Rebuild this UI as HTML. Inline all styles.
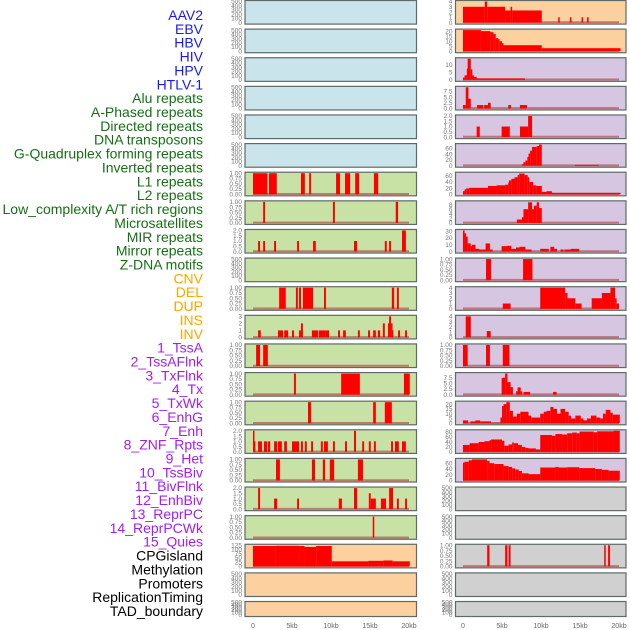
<!DOCTYPE html>
<html><head><meta charset="utf-8"><style>
html,body{margin:0;padding:0;background:#fff;width:630px;height:630px;overflow:hidden}
svg{display:block}
</style></head><body>
<svg id="chart" width="630" height="630" xmlns="http://www.w3.org/2000/svg" font-family="Liberation Sans, sans-serif"></svg>
<script>
// ---- labels ----
const labelNames = ["AAV2","EBV","HBV","HIV","HPV","HTLV-1","Alu repeats","A-Phased repeats","Directed repeats","DNA transposons","G-Quadruplex forming repeats","Inverted repeats","L1 repeats","L2 repeats","Low_complexity A/T rich regions","Microsatellites","MIR repeats","Mirror repeats","Z-DNA motifs","CNV","DEL","DUP","INS","INV","1_TssA","2_TssAFlnk","3_TxFlnk","4_Tx","5_TxWk","6_EnhG","7_Enh","8_ZNF_Rpts","9_Het","10_TssBiv","11_BivFlnk","12_EnhBiv","13_ReprPC","14_ReprPCWk","15_Quies","CPGisland","Methylation","Promoters","ReplicationTiming","TAD_boundary"];
const labelGroups = [6,13,5,15,5];
const groupColors = ["#1a1aee","#157015","#ffa500","#a020f0","#000000"];
// ---- x axis ----
const xTicks = [0,5,10,15,20];
const xTickLabels = ["0","5kb","10kb","15kb","20kb"];
// ---- tick sets ----
const tEmpty = [0,100,200,300,400,500];
const tBin = [0,0.25,0.5,0.75,1];
const tBinL = ["0.00","0.25","0.50","0.75","1.00"];
const t2 = [0,0.5,1,1.5,2];
const t2L = ["0.0","0.5","1.0","1.5","2.0"];
const t3 = [0,1,2,3];
const t4 = [0,1,2,3,4];
const t20 = [0,5,10,15,20];
const t10 = [0,5,10];
const t75 = [0,2.5,5,7.5];
const t75L = ["0.0","2.5","5.0","7.5"];
const t60 = [0,20,40,60];
const t80 = [0,20,40,60,80];
const t8 = [0,2,4,6,8];
const t30 = [0,10,20,30];
const t125 = [0,25,50,75,100,125];
// ---- column 1 series [start kb, end kb, value] ----
const c1L1 = [[0,1.85,1],[2.05,3.05,1],[6.15,6.65,1],[7.2,7.45,1],[10.65,11.15,1],[11.8,12.45,1],[13.1,13.6,1],[15.5,16.05,1]];
const c1Low = [[1.3,1.55,1],[10.25,10.5,1],[18.3,18.6,1]];
const c1MIR = [[0.65,0.9,1],[1.3,1.55,1],[2.7,2.95,1],[5.65,5.9,1],[7.7,8.05,1],[12.95,13.35,1],[16.9,17.15,1],[17.45,17.7,1],[19.1,19.6,2]];
const c1CNV = [[3.35,4.2,1],[5.5,5.75,1],[5.9,6.15,1],[6.4,7.7,1],[9.1,9.35,1],[17.8,18.1,1],[18.45,18.7,1]];
const c1INS = [[0.65,1.0,1],[3.2,3.85,1],[4.0,4.5,1],[5.0,5.25,1],[5.9,6.15,1],[6.15,6.4,2],[7.55,8.35,1],[8.45,9.25,1],[9.25,9.75,1],[10.9,11.15,1],[11.55,11.9,1],[13.45,13.7,1],[14.75,15.0,1],[15.4,15.75,1],[16.0,16.3,1],[16.65,16.9,2],[17.3,17.45,2],[17.45,17.7,3],[17.7,17.8,2],[17.8,17.95,1],[18.6,18.85,1],[19.5,19.75,1]];
const c1TssA = [[0.4,0.9,1],[1.3,1.9,1]];
const c1TxFlnk = [[5.25,5.5,1],[11.3,13.7,1],[19.35,20.1,1]];
const c1TxWk = [[7.05,7.45,1],[15.4,15.75,1],[16.9,17.8,1]];
const c1Enh = [[0,0.12,2],[0.12,0.2,1],[0.65,1.15,1],[1.4,1.8,1],[1.9,2.2,1],[2.7,3.1,1],[3.2,3.7,1],[4.0,4.35,1],[5.0,5.9,1],[6.15,6.4,1],[6.65,6.9,1],[7.45,7.7,1],[8.7,8.95,1],[9.1,9.6,1],[10.25,10.5,1],[11.8,12.05,1],[12.95,13.2,2],[14.0,14.25,1],[14.85,15.1,1],[15.5,15.75,1],[17.7,17.95,1],[18.2,18.7,1],[19.1,19.6,1]];
const c1Het = [[2.95,3.45,1],[7.55,7.95,1],[8.95,9.25,1],[9.85,10.4,1],[13.45,14.1,1]];
const c1BivFlnk = [[0.65,0.9,2],[2.7,3.1,1],[5.65,5.9,1],[11.0,11.4,1],[12.95,13.35,2],[14.85,15.1,1.5],[15.1,15.75,1],[16.4,17.05,1],[17.45,17.95,2],[18.45,18.7,1],[19.5,19.75,1]];
const c1ReprPC = [[15.35,15.55,1]];
const c1CPG = [[0,2.9,121],[2.9,5.9,122],[5.9,6.6,121],[6.6,8.1,115],[8.1,10.1,121],[10.1,14.8,30],[14.8,16.7,33],[16.7,17.9,35],[17.9,20.1,30]];
// ---- column 2 series ----
const c2AAV2 = [[0,2.8,3],[2.8,3.1,4],[3.1,5.4,3],[5.4,6.1,2.3],[6.1,6.3,3],[6.3,10.1,2.3],[12.2,12.4,1],[13.7,13.9,1],[15.2,15.4,1],[15.9,16.1,1]];
const c2EBV = [[0,2.3,21],[2.3,3.5,20],[3.5,3.9,19],[3.9,4.2,17],[4.2,4.5,13],[4.5,4.7,12],[4.7,5.0,10],[5.0,5.1,8],[5.1,10.1,6],[10.1,20.2,3]];
const c2HBV = [[0,0.2,1.5],[0.2,0.5,3],[0.5,0.6,7.5],[0.6,1.0,14],[1.0,1.15,7],[1.15,1.4,3],[1.4,1.75,2],[1.75,7.95,1]];
const c2HIV = [[0,0.35,1.5],[0.35,0.7,9.3],[0.7,1.0,4.3],[1.8,2.6,1.5],[2.7,3.2,1.5],[3.2,3.55,2.5],[5.8,6.15,1.5],[7.3,8.2,1.5]];
const c2HPV = [[1.75,2.15,1],[4.95,6.0,1],[7.3,8.35,1],[8.35,8.85,2]];
const c2HTLV = [[7.55,7.74,5],[7.74,8.0,12],[8.0,8.25,18],[8.25,8.4,30],[8.4,8.6,42],[8.6,8.85,52],[8.85,9.45,65],[9.45,9.75,68],[9.75,10.1,73],[14.35,17.4,3]];
const c2L1 = [[0,0.2,10],[0.2,0.4,16],[0.4,0.8,19],[0.8,3.2,21],[3.2,4.3,27],[4.3,5.4,29],[5.4,5.8,31],[5.8,5.9,38],[5.9,6.2,45],[6.2,6.6,50],[6.6,7.0,55],[7.0,7.2,62],[7.2,7.9,67],[7.9,8.3,62],[8.3,8.5,55],[8.5,9.0,40],[9.0,9.4,29],[9.4,10.1,27],[10.1,10.7,8],[10.7,11.4,10],[11.4,20.2,5]];
const c2Low = [[6.9,7.55,1.5],[7.55,7.75,2.5],[7.75,8.35,6],[8.35,8.85,9],[8.85,9.1,6],[9.1,9.45,7.5],[9.45,9.75,9],[9.75,10.1,6.5]];
const c2MIR = [[0,0.2,31],[0.2,0.35,27],[0.35,0.6,22],[0.6,1.0,12],[1.0,1.15,8],[1.15,1.6,10],[1.6,2.1,4],[2.1,2.9,3],[2.9,3.45,12],[3.45,3.8,3],[4.95,5.7,8],[5.7,6.2,8.5],[6.2,6.8,4],[6.8,7.25,6],[7.25,8.0,7],[8.0,8.8,3],[9.9,11.0,4],[11.2,11.7,7],[11.7,12.05,4],[12.5,12.9,3],[13.0,13.8,3],[13.8,14.9,4]];
const c2CNV = [[2.95,3.6,1],[7.7,8.9,1]];
const c2DEL = [[5.1,6.1,1],[9.9,13.1,4],[13.1,13.4,3],[13.4,14.4,2],[14.4,15.2,1],[16.5,17.8,2],[17.8,18.9,3],[18.9,19.5,4],[19.5,19.7,2],[19.7,20.0,1]];
const c2INS = [[0.35,1.0,4],[3.05,3.55,1.2]];
const c2TssA = [[0,0.6,1],[2.95,3.45,1],[5.1,5.95,1]];
const c2TssAF = [[4.95,5.1,7.3],[5.1,5.4,7.5],[5.4,5.7,9.3],[5.7,6.1,5.5],[6.1,6.4,3.3],[6.8,7.0,1.5],[7.0,7.4,3.2],[7.4,7.55,1.5],[7.75,8.6,1.2],[11.55,12.0,1.2]];
const c2Tx = [[0,0.65,3],[0.95,1.6,2],[1.6,2.2,3],[2.2,3.6,2],[3.6,4.8,0.5],[4.8,5.0,6],[5.0,5.2,18],[5.2,5.55,20],[5.55,6.0,22],[6.0,6.4,13],[6.4,6.9,7],[6.9,7.35,10],[7.35,8.4,12],[8.4,8.75,8],[8.75,9.9,6],[9.9,10.35,10],[10.35,10.7,12],[10.7,11.2,13],[11.2,11.6,17],[11.6,12.05,15],[12.05,12.5,10],[12.5,13.1,15],[13.1,13.55,12],[13.55,13.85,8],[13.85,14.4,5],[14.4,15.1,8],[15.1,15.45,5],[15.45,15.9,3],[15.9,16.4,5],[16.4,17.1,8],[17.1,17.6,6],[17.6,17.95,5],[17.95,18.3,10],[18.3,18.9,14],[18.9,19.2,11],[19.2,20.1,9]];
const c2EnhG = [[0,0.85,28],[0.85,2.0,35],[2.0,2.75,40],[2.75,3.4,43],[3.4,3.6,47],[3.6,5.0,50],[5.0,5.3,45],[5.3,5.85,25],[5.85,6.3,30],[6.3,6.5,38],[6.5,7.05,35],[7.05,7.55,28],[7.55,8.0,20],[8.0,8.4,16],[8.4,9.35,14],[9.35,9.9,10],[9.9,11.4,68],[11.4,11.85,65],[11.85,12.7,72],[12.7,13.35,70],[13.35,14.0,75],[14.0,14.6,78],[14.6,14.95,75],[14.95,16.75,82],[16.75,17.2,79],[17.2,19.3,83],[19.3,20.1,85]];
const c2ZNF = [[0,0.2,62],[0.2,0.75,65],[0.75,1.15,70],[1.15,3.1,73],[3.1,3.4,68],[3.4,4.0,60],[4.0,5.2,57],[5.2,5.85,50],[5.85,6.3,47],[6.3,6.7,42],[6.7,7.15,38],[7.15,7.55,33],[7.55,8.4,25],[8.4,9.9,22],[9.9,11.85,45],[11.85,12.25,47],[12.25,13.35,45],[13.35,14.9,46],[14.9,16.95,43],[16.95,17.8,40],[17.8,18.65,37],[18.65,20.1,34]];
const c2CPG = [[3.1,3.4,1],[5.4,5.7,1],[5.85,6.1,1],[18.1,18.3,1],[18.6,18.85,1]];

const panels = [
 // col, row, bg, ticks, tickLabels, ymax, series, name
 [0,0,"#c9e4eb",tEmpty,null,500,null,"aav2-ebv"],
 [0,1,"#c9e4eb",tEmpty,null,500,null,"hbv-hiv"],
 [0,2,"#c9e4eb",tEmpty,null,500,null,"hpv-htlv"],
 [0,3,"#c9e4eb",tEmpty,null,500,null,"alu-aphased"],
 [0,4,"#c9e4eb",tEmpty,null,500,null,"directed-dna"],
 [0,5,"#c9e4eb",tEmpty,null,500,null,"gquad-inverted"],
 [0,6,"#c8e2a5",tBin,tBinL,1,c1L1,"l1-l2"],
 [0,7,"#c8e2a5",tBin,tBinL,1,c1Low,"lowcomplexity-microsat"],
 [0,8,"#c8e2a5",t2,t2L,2,c1MIR,"mir-mirror"],
 [0,9,"#c8e2a5",tEmpty,null,500,null,"zdna-cnv"],
 [0,10,"#c8e2a5",tBin,tBinL,1,c1CNV,"del-dup"],
 [0,11,"#c8e2a5",t3,null,3,c1INS,"ins-inv"],
 [0,12,"#c8e2a5",tBin,tBinL,1,c1TssA,"tssa"],
 [0,13,"#c8e2a5",tBin,tBinL,1,c1TxFlnk,"txflnk"],
 [0,14,"#c8e2a5",tBin,tBinL,1,c1TxWk,"txwk"],
 [0,15,"#c8e2a5",t2,t2L,2,c1Enh,"enh"],
 [0,16,"#c8e2a5",tBin,tBinL,1,c1Het,"het"],
 [0,17,"#c8e2a5",t2,t2L,2,c1BivFlnk,"bivflnk"],
 [0,18,"#c8e2a5",tBin,tBinL,1,c1ReprPC,"reprpc"],
 [0,19,"#fdd0a0",t125,null,125,c1CPG,"cpg-methylation"],
 [0,20,"#fdd0a0",tEmpty,null,500,null,"promoters"],
 [0,21,"#fdd0a0",tEmpty,null,500,null,"tad"],
 [1,0,"#fdd0a0",t4,null,4,c2AAV2,"aav2"],
 [1,1,"#fdd0a0",t20,null,21,c2EBV,"ebv"],
 [1,2,"#d6c6e2",t10,null,14,c2HBV,"hbv"],
 [1,3,"#d6c6e2",t75,t75L,9.3,c2HIV,"hiv"],
 [1,4,"#d6c6e2",t2,t2L,2,c2HPV,"hpv"],
 [1,5,"#d6c6e2",t60,null,73,c2HTLV,"htlv"],
 [1,6,"#d6c6e2",t60,null,68,c2L1,"l1"],
 [1,7,"#d6c6e2",t8,null,9.2,c2Low,"lowcomplexity"],
 [1,8,"#d6c6e2",t30,null,31,c2MIR,"mir"],
 [1,9,"#d6c6e2",tBin,tBinL,1,c2CNV,"cnv"],
 [1,10,"#d6c6e2",t4,null,4,c2DEL,"del"],
 [1,11,"#d6c6e2",t4,null,4,c2INS,"ins"],
 [1,12,"#d6c6e2",tBin,tBinL,1,c2TssA,"tssa"],
 [1,13,"#d6c6e2",t75,t75L,9.3,c2TssAF,"tssaflnk"],
 [1,14,"#d6c6e2",t20,null,22,c2Tx,"tx"],
 [1,15,"#d6c6e2",t80,null,85,c2EnhG,"enhg"],
 [1,16,"#d6c6e2",t60,null,73,c2ZNF,"znf"],
 [1,17,"#d0d0d0",tEmpty,null,500,null,"enhbiv"],
 [1,18,"#d0d0d0",tEmpty,null,500,null,"reprpcwk"],
 [1,19,"#d0d0d0",tBin,tBinL,1,c2CPG,"cpg"],
 [1,20,"#d0d0d0",tEmpty,null,500,null,"promoters"],
 [1,21,"#d0d0d0",tEmpty,null,500,null,"tad"]
];

const NS = "http://www.w3.org/2000/svg";
const svg = document.getElementById("chart");
function mk(tag, attrs, parent){
  const e = document.createElementNS(NS, tag);
  for (const k in attrs) e.setAttribute(k, attrs[k]);
  (parent||svg).appendChild(e);
  return e;
}
const colLeft = [245, 455.5], colRight = [416.5, 626], x0px = [253, 463], kbPx = 7.8;
function xScale(col, kb){ return x0px[col] + kb*kbPx; }
function rowTop(r){ return r*28.62; }
function rowH(r){ return r===21 ? 16 : 24.6; }

// labels
let li = 0;
labelGroups.forEach((n, g) => {
  for (let k=0;k<n;k++){
    const t = mk("text", {x:203, y:15+li*13.86+5, "text-anchor":"end", "font-size":"14", fill:groupColors[g]});
    
    
    t.textContent = labelNames[li];
    li++;
  }
});

panels.forEach(p => {
  const [col,row,bg,ticks,tl,ymax,series,name] = p;
  const top = rowTop(row), h = rowH(row), L = colLeft[col], R = colRight[col];
  const g = mk("g", {});
  
  
  mk("rect", {x:L, y:top+0.5, width:R-L, height:h-1, fill:bg, stroke:"#5f6a66", "stroke-width":1.2}, g);
  const yb = top + h - 2, yt = top + 1.5;
  const yS = v => yb - v/ymax*(yb-yt);
  ticks.forEach((tv,i) => {
    const ty = mk("text", {x:L-3, y:yS(tv)+2.2, "text-anchor":"end", "font-size":"6.5", fill:"#777"}, g);
    
    
    ty.textContent = tl ? tl[i] : String(tv);
  });
  if (series){
    mk("line", {x1:xScale(col,0), x2:xScale(col,20), y1:yb-0.3, y2:yb-0.3, stroke:"#b03a3a", "stroke-width":2, opacity:0.6}, g);
    series.forEach(s => {
      const xa = xScale(col,s[0]), xb = xScale(col,s[1]);
      const b = mk("rect", {x:xa, y:yS(s[2]), width:Math.max(1.5, xb-xa), height:yb-yS(s[2]), fill:"#ff0000"}, g);
      
      
    });
  }
});

[0,1].forEach(col => {
  xTicks.forEach((v,i) => {
    const t = mk("text", {x:xScale(col,v), y:628, "text-anchor":"middle", "font-size":"7", fill:"#666"});
    
    
    t.textContent = xTickLabels[i];
  });
});
</script>
</body></html>
